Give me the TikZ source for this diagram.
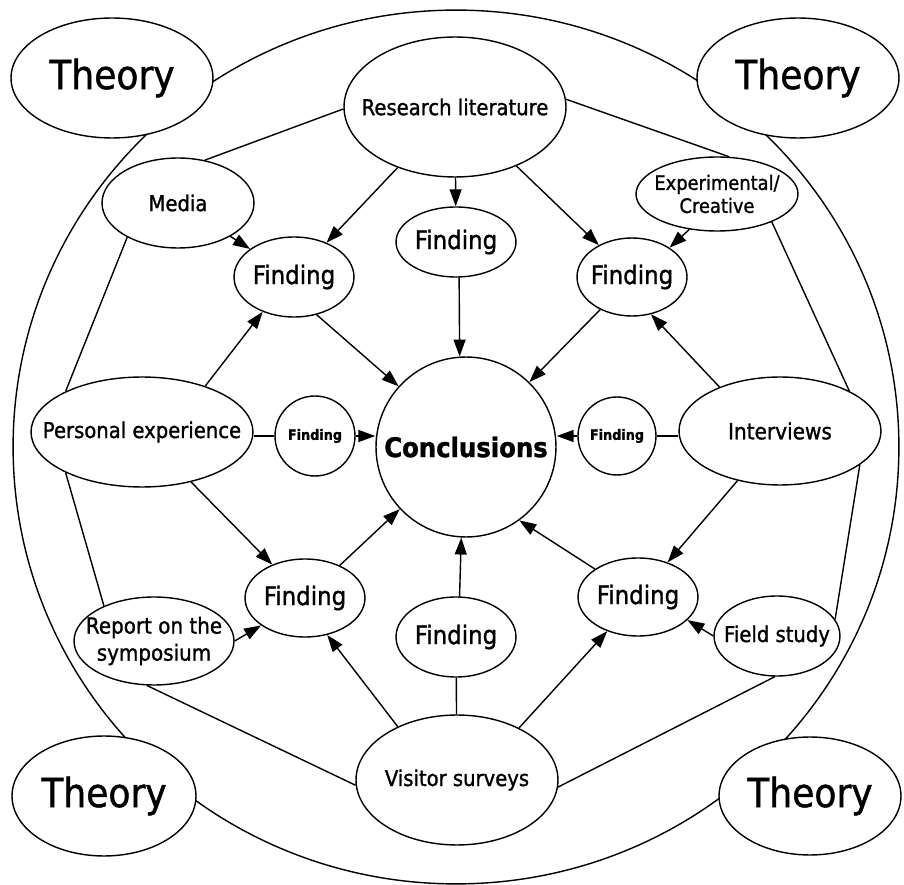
\documentclass[tikz,border=0pt]{standalone}
\usepackage{fontspec}
\setmainfont{DejaVu Sans}[FakeStretch=0.9, FakeBold=1.2]
\usetikzlibrary{shapes.geometric, arrows.meta}

\begin{document}
\begin{tikzpicture}[x=0.02cm, y=-0.02cm, line width=0.8pt,
    bub/.style={ellipse, draw, fill=white, inner sep=-1cm},
    theory/.style={bub, font=\fontsize{22.8}{27}\selectfont},
    src/.style={bub, font=\fontsize{12.4}{15}\selectfont, align=center},
    find/.style={bub, font=\fontsize{14.5}{17}\selectfont},
    minifind/.style={bub, minimum size=16mm, font=\bfseries\fontsize{8.1}{10}\selectfont},
    arr/.style={-{Triangle[length=3.4mm, width=2.4mm]}}]
  \useasboundingbox (0,0) rectangle (904,885);
  \fill[white] (0,0) rectangle (904,885);

  % outer ring
  \node[bub, fill=none, minimum width=177.2mm, minimum height=174.8mm] (ring) at (456,447) {};

  % theory in the corners
  \node[theory, minimum width=40.4mm, minimum height=24mm] (thTL) at (112,78) {Theory};
  \node[theory, minimum width=40.4mm, minimum height=24mm] (thTR) at (798,78) {Theory};
  \node[theory, minimum width=36.8mm, minimum height=24mm] (thBL) at (104,796) {Theory};
  \node[theory, minimum width=36.4mm, minimum height=23.6mm] (thBR) at (810,796) {Theory};

  % sources
  \node[src, minimum width=44.4mm, minimum height=28mm] (lit) at (455,107) {Research literature};
  \node[src, minimum width=30.4mm, minimum height=18mm] (media) at (178,203) {Media};
  \node[src, minimum width=32.4mm, minimum height=14.8mm,
        font=\fontsize{11.3}{13.1}\selectfont] (exper) at (717,194) {Experimental/\\Creative};
  \node[src, minimum width=44.4mm, minimum height=22mm] (pers) at (142,432) {Personal experience};
  \node[src, minimum width=40.4mm, minimum height=21.6mm,
        font=\fontsize{12.7}{15}\selectfont] (interv) at (780,431) {Interviews};
  \node[src, minimum width=32mm, minimum height=17.6mm,
        font=\fontsize{12.6}{15.4}\selectfont] (report) at (154,641) {Report on the\\symposium};
  \node[src, minimum width=25.2mm, minimum height=16mm] (field) at (777,636) {Field study};
  \node[src, minimum width=40.4mm, minimum height=26mm] (visit) at (457,780) {Visitor surveys};

  % findings
  \node[find, minimum width=24mm, minimum height=16mm] (fTL) at (294,277) {Finding};
  \node[find, minimum width=24mm, minimum height=14mm] (fTM) at (456,242) {Finding};
  \node[find, minimum width=22mm, minimum height=15.6mm] (fTR) at (632,277) {Finding};
  \node[minifind] (fL) at (315,436) {Finding};
  \node[minifind, minimum size=15.6mm] (fR) at (617,436) {Finding};
  \node[find, minimum width=24mm, minimum height=15.6mm] (fBL) at (305,598) {Finding};
  \node[find, minimum width=24mm, minimum height=16mm] (fBM) at (456,637) {Finding};
  \node[find, minimum width=24mm, minimum height=15.6mm] (fBR) at (638,597) {Finding};

  \node[bub, minimum size=36mm, font=\bfseries\fontsize{15.4}{18}\selectfont] (concl) at (466,447) {Conclusions};

  % ring of sources
  \draw (lit.181) -- (media.58);
  \draw (lit.4) -- (exper.72);
  \draw (media.214) -- (pers.152);
  \draw (exper.333) -- (interv.30);
  \draw (pers.208) -- (report.145);
  \draw (interv.337) -- (field.16);
  \draw (report.261) -- (visit.183);
  \draw (field.267) -- (visit.356);

  % sources to findings
  \draw[arr] (lit) -- (fTL);
  \draw[arr] (lit) -- (fTM);
  \draw[arr] (lit) -- (fTR);
  \draw[arr] (media) -- (fTL);
  \draw[arr] (exper.232) -- (fTR.38);
  \draw[arr] (pers.36) -- (fTL.228);
  \draw[arr] (interv.144) -- (fTR.297);
  \draw[arr] (pers) -- (fBL);
  \draw[arr] (report.east) -- (fBL.212);
  \draw[arr] (visit.138) -- (fBL.301);
  \draw[arr] (visit.40) -- (fBR.228);
  \draw[arr] (interv) -- (fBR);
  \draw[arr] (field.west) -- (fBR.335);
  \draw (pers.east |- fL.west) -- (fL.west);
  \draw (fR.east) -- (fR.east -| interv.west);
  \draw (visit) -- (fBM);

  % findings to conclusions
  \draw[arr] (fTL.301) -- (concl.138);
  \draw[arr] (fTM.275) -- (concl.94);
  \draw[arr] (fTR) -- (concl);
  \draw[arr] (fL.east) -- (fL.east -| concl.west);
  \draw[arr] (fR.west) -- (fR.west -| concl.east);
  \draw[arr] (fBL) -- (concl);
  \draw[arr] (fBM.85) -- (concl.267);
  \draw[arr] (fBR.147) -- (concl.306);
\end{tikzpicture}
\end{document}
